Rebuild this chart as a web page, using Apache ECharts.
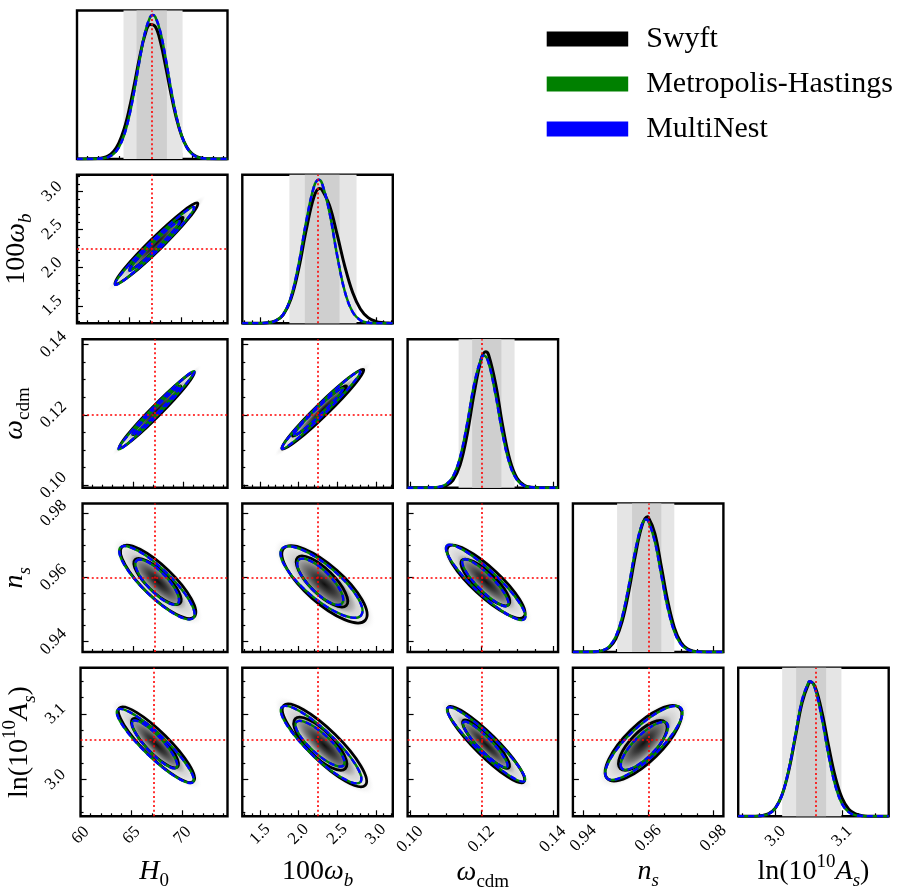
<!DOCTYPE html>
<html><head><meta charset="utf-8">
<script src="https://cdn.jsdelivr.net/npm/echarts@6/dist/echarts.min.js"></script>
<style>html,body{margin:0;padding:0;background:#fff}#c{width:906px;height:895px}</style>
</head><body><div id="c"></div>
<script>
// ================= DATA =================
const paramKeys = ['H0', 'omega_b', 'omega_cdm', 'n_s', 'ln10As'];
const axisMin = [60, 1.27, 0.0993, 0.9368, 2.944];
const axisMax = [74.4, 3.22, 0.1415, 0.9831, 3.170];
const majorTicks = [[60, 65, 70], [1.5, 2.0, 2.5, 3.0], [0.10, 0.12, 0.14], [0.94, 0.96, 0.98], [3.0, 3.1]];
const minorTicks = [
  [61, 62, 63, 64, 66, 67, 68, 69, 71, 72, 73, 74],
  [1.3, 1.4, 1.6, 1.7, 1.8, 1.9, 2.1, 2.2, 2.3, 2.4, 2.6, 2.7, 2.8, 2.9, 3.1, 3.2],
  [0.105, 0.11, 0.115, 0.125, 0.13, 0.135],
  [0.945, 0.95, 0.955, 0.965, 0.97, 0.975],
  [2.95, 2.975, 3.025, 3.05, 3.075, 3.125, 3.15]
];
const tickDecimals = [0, 1, 2, 2, 1];
const truthValues = [67.17, 2.246, 0.1204, 0.960, 3.056];
const band68 = [[65.7, 68.6], [2.08, 2.53], [0.1174, 0.1256], [0.955, 0.964], [3.031, 3.076]];
const band95 = [[64.45, 70.1], [1.88, 2.75], [0.1136, 0.1293], [0.9504, 0.968], [3.010, 3.099]];
const axisTitles = [
  '{it|H}{sub|0}',
  '{rm|100}{it|ω}{subit|b}',
  '{it|ω}{sub|cdm}',
  '{it|n}{subit|s}',
  '{rm|ln(10}{sup|10}{it|A}{subit|s}{rm|)}'
];
const methodNames = ['Swyft', 'Metropolis-Hastings', 'MultiNest'];

// 1D marginals: [parameter value, relative height]
const swyft1D_H0 = [[60,0],[62,0.003],[62.5,0.008],[63,0.022],[63.5,0.051],[64,0.107],[64.5,0.200],[65,0.337],[65.5,0.508],[66,0.688],[66.5,0.835],[67,0.906],[67.5,0.891],[68,0.783],[68.5,0.617],[69,0.436],[69.5,0.277],[70,0.158],[70.5,0.081],[71,0.037],[71.5,0.015],[72,0.006],[72.5,0.002],[73,0.001],[74.4,0]];
const mh1D_H0 = [[60,0],[62,0.001],[62.5,0.005],[63,0.013],[63.5,0.034],[64,0.079],[64.5,0.160],[65,0.29],[65.5,0.468],[66,0.67],[66.5,0.849],[67,0.956],[67.25,0.970],[67.5,0.956],[68,0.849],[68.5,0.67],[69,0.468],[69.5,0.29],[70,0.160],[70.5,0.079],[71,0.034],[71.5,0.013],[72,0.005],[72.5,0.001],[74.4,0]];
const swyft1D_wb = [[1.27,0],[1.5,0.001],[1.6,0.003],[1.7,0.016],[1.8,0.057],[1.9,0.164],[2.0,0.365],[2.1,0.633],[2.2,0.854],[2.27,0.908],[2.3,0.901],[2.4,0.793],[2.5,0.595],[2.6,0.380],[2.7,0.207],[2.8,0.096],[2.9,0.038],[3.0,0.013],[3.1,0.004],[3.2,0.001],[3.22,0]];
const mh1D_wb = [[1.27,0],[1.5,0],[1.6,0.003],[1.7,0.016],[1.8,0.060],[1.9,0.176],[2.0,0.398],[2.1,0.690],[2.2,0.922],[2.26,0.967],[2.3,0.947],[2.4,0.747],[2.5,0.454],[2.6,0.211],[2.7,0.076],[2.8,0.021],[2.9,0.004],[3.0,0.001],[3.22,0]];
const swyft1D_wc = [[0.0993,0],[0.106,0],[0.108,0.002],[0.110,0.012],[0.112,0.049],[0.114,0.152],[0.116,0.359],[0.118,0.642],[0.120,0.870],[0.1212,0.915],[0.122,0.895],[0.124,0.697],[0.126,0.412],[0.128,0.185],[0.130,0.063],[0.132,0.016],[0.134,0.003],[0.136,0],[0.1415,0]];
const mh1D_wc = [[0.0993,0],[0.106,0.001],[0.108,0.004],[0.110,0.021],[0.112,0.074],[0.114,0.203],[0.116,0.431],[0.118,0.700],[0.120,0.876],[0.1207,0.890],[0.122,0.842],[0.124,0.622],[0.126,0.354],[0.128,0.154],[0.130,0.052],[0.132,0.013],[0.134,0.003],[0.136,0],[0.1415,0]];
const swyft1D_ns = [[0.9368,0],[0.942,0],[0.944,0.002],[0.946,0.009],[0.948,0.031],[0.950,0.089],[0.952,0.210],[0.954,0.408],[0.956,0.649],[0.958,0.847],[0.9597,0.910],[0.960,0.908],[0.962,0.799],[0.964,0.576],[0.966,0.341],[0.968,0.166],[0.970,0.066],[0.972,0.022],[0.974,0.006],[0.976,0.001],[0.978,0],[0.9831,0]];
const mh1D_ns = [[0.9368,0],[0.942,0.001],[0.944,0.003],[0.946,0.011],[0.948,0.038],[0.950,0.105],[0.952,0.239],[0.954,0.446],[0.956,0.682],[0.958,0.856],[0.9593,0.893],[0.960,0.882],[0.962,0.746],[0.964,0.518],[0.966,0.295],[0.968,0.138],[0.970,0.053],[0.972,0.017],[0.974,0.004],[0.976,0.001],[0.978,0],[0.9831,0]];
const swyft1D_As = [[2.944,0],[2.97,0.001],[2.98,0.005],[2.99,0.018],[3.00,0.056],[3.01,0.146],[3.02,0.309],[3.03,0.537],[3.04,0.766],[3.05,0.897],[3.053,0.905],[3.06,0.866],[3.07,0.697],[3.08,0.468],[3.09,0.262],[3.10,0.122],[3.11,0.048],[3.12,0.016],[3.13,0.004],[3.14,0.001],[3.17,0]];
const mh1D_As = [[2.944,0],[2.97,0.001],[2.98,0.004],[2.99,0.017],[3.00,0.056],[3.01,0.147],[3.02,0.316],[3.03,0.552],[3.04,0.784],[3.05,0.906],[3.052,0.910],[3.06,0.852],[3.07,0.651],[3.08,0.405],[3.09,0.205],[3.10,0.084],[3.11,0.028],[3.12,0.008],[3.13,0.002],[3.14,0],[3.17,0]];
// MultiNest lies on top of Metropolis-Hastings everywhere in the figure
const nest1D_H0 = mh1D_H0, nest1D_wb = mh1D_wb, nest1D_wc = mh1D_wc, nest1D_ns = mh1D_ns, nest1D_As = mh1D_As;

// 2D credible contours (outer 95%, inner 68%): [centre x, centre y, major-axis tip x, tip y, minor-axis side x, side y]
const swyft2D_H0_wb = [[67.60,2.317,71.55,2.848,68.03,2.257],[67.60,2.317,70.15,2.660,67.86,2.281]];
const mh2D_H0_wb    = [[67.42,2.286,71.20,2.795,67.78,2.236],[67.42,2.286,69.82,2.610,67.64,2.256]];
const swyft2D_H0_wc = [[67.37,0.1213,71.10,0.1321,67.71,0.12018],[67.37,0.1213,69.75,0.1282,67.59,0.12057]];
const mh2D_H0_wc    = [[67.34,0.1213,71.10,0.1324,67.64,0.12045],[67.34,0.1213,69.70,0.1282,67.52,0.12085]];
const swyft2D_H0_ns = [[67.51,0.9587,71.10,0.9478,68.54,0.9622],[67.45,0.9588,69.69,0.9520,68.16,0.9612]];
const mh2D_H0_ns    = [[67.39,0.9584,71.01,0.9474,68.31,0.9616],[67.42,0.9586,69.47,0.9519,68.08,0.9609]];
const swyft2D_H0_As = [[67.44,3.0531,71.07,2.9972,68.28,3.0670],[67.29,3.0554,69.50,3.019,67.92,3.0656]];
const mh2D_H0_As    = [[67.32,3.0511,71.01,2.9961,68.08,3.0635],[67.26,3.0534,69.40,3.018,67.82,3.0626]];
const swyft2D_wb_wc = [[2.313,0.1216,2.841,0.1329,2.369,0.12032],[2.270,0.1211,2.620,0.1282,2.306,0.12025]];
const mh2D_wb_wc    = [[2.291,0.1214,2.799,0.1324,2.336,0.12035],[2.258,0.1209,2.575,0.1276,2.289,0.12020]];
const swyft2D_wb_ns = [[2.335,0.9579,2.863,0.9467,2.494,0.9623],[2.302,0.9588,2.617,0.9513,2.414,0.9615]];
const mh2D_wb_ns    = [[2.296,0.9586,2.808,0.9482,2.436,0.9626],[2.280,0.9587,2.561,0.9519,2.380,0.9611]];
const swyft2D_wb_As = [[2.335,3.0519,2.863,2.9911,2.473,3.0685],[2.280,3.0545,2.604,3.0165,2.378,3.070]];
const mh2D_wb_As    = [[2.291,3.0531,2.799,2.9961,2.410,3.0679],[2.276,3.0545,2.582,3.0215,2.361,3.0656]];
const swyft2D_wc_ns = [[0.1213,0.9587,0.1319,0.9478,0.1240,0.9619],[0.1211,0.9585,0.1277,0.9516,0.1230,0.9608]];
const mh2D_wc_ns    = [[0.1212,0.9585,0.1321,0.9471,0.1235,0.9612],[0.1211,0.9584,0.1274,0.9513,0.1227,0.9602]];
const swyft2D_wc_As = [[0.1213,3.0531,0.1319,2.9961,0.1235,3.0647],[0.1213,3.0539,0.1277,3.018,0.1229,3.0622]];
const mh2D_wc_As    = [[0.1213,3.0534,0.1321,2.9977,0.1232,3.0635],[0.1211,3.0531,0.1272,3.019,0.1224,3.0603]];
const swyft2D_ns_As = [[0.9585,3.0553,0.9696,3.1092,0.9624,3.0353],[0.9583,3.0519,0.9652,3.0873,0.9611,3.038]];
const mh2D_ns_As    = [[0.9586,3.0557,0.9700,3.1092,0.9619,3.0381],[0.9588,3.0512,0.9657,3.0858,0.9611,3.0396]];

// ================= assembly =================
const swyft1D = [swyft1D_H0, swyft1D_wb, swyft1D_wc, swyft1D_ns, swyft1D_As];
const mh1D = [mh1D_H0, mh1D_wb, mh1D_wc, mh1D_ns, mh1D_As];
const nest1D = [nest1D_H0, nest1D_wb, nest1D_wc, nest1D_ns, nest1D_As];
const swyft2D = {'1,0': swyft2D_H0_wb, '2,0': swyft2D_H0_wc, '3,0': swyft2D_H0_ns, '4,0': swyft2D_H0_As,
  '2,1': swyft2D_wb_wc, '3,1': swyft2D_wb_ns, '4,1': swyft2D_wb_As, '3,2': swyft2D_wc_ns, '4,2': swyft2D_wc_As, '4,3': swyft2D_ns_As};
const mh2D = {'1,0': mh2D_H0_wb, '2,0': mh2D_H0_wc, '3,0': mh2D_H0_ns, '4,0': mh2D_H0_As,
  '2,1': mh2D_wb_wc, '3,1': mh2D_wb_ns, '4,1': mh2D_wb_As, '3,2': mh2D_wc_ns, '4,2': mh2D_wc_As, '4,3': mh2D_ns_As};
const nest2D = mh2D;

// ================= layout / style =================
const FONT = '"Liberation Serif", "DejaVu Serif", serif';
const colLeft = [77, 242.3, 407.6, 572.9, 738.2];
const rowTop = [10.5, 174.8, 339.2, 503.5, 667.8];
const PW = 150.5, PH = 148.5;
const xLabelMargin = [19, 18, 23, 22, 20];
const yLabelMargin = [25, 25, 29, 29, 25];
const COLORS = {Swyft: '#000000', 'Metropolis-Hastings': '#008000', MultiNest: '#0000ff'};
const rich = {
  rm: {fontFamily: FONT, fontSize: 28, lineHeight: 38, color: '#000'},
  it: {fontFamily: FONT, fontStyle: 'italic', fontSize: 28, lineHeight: 38, color: '#000'},
  sub: {fontFamily: FONT, fontSize: 19, lineHeight: 18, verticalAlign: 'bottom', color: '#000'},
  subit: {fontFamily: FONT, fontStyle: 'italic', fontSize: 19, lineHeight: 18, verticalAlign: 'bottom', color: '#000'},
  sup: {fontFamily: FONT, fontSize: 19, lineHeight: 18, verticalAlign: 'top', color: '#000'}
};
const tickLine = {color: '#000', width: 1.2};
const truthLine = {color: '#ff0000', width: 1.6, type: [2, 2.6]};
const TICK_FONT = 17;

function mainX(p, showLabel, g) {
  return {gridIndex: g, type: 'value', min: axisMin[p], max: axisMax[p], position: 'bottom',
    axisLine: {show: false}, splitLine: {show: false},
    axisTick: {show: true, inside: true, length: 6, customValues: majorTicks[p], lineStyle: tickLine},
    axisLabel: {show: showLabel, customValues: majorTicks[p], formatter: v => Number(v).toFixed(tickDecimals[p]),
      rotate: 45, align: 'center', verticalAlign: 'middle', margin: xLabelMargin[p],
      fontFamily: FONT, fontSize: TICK_FONT, color: '#000'},
    name: showLabel ? axisTitles[p] : '', nameLocation: 'middle', nameGap: 36,
    nameTextStyle: {rich: rich}};
}
function minorX(p, g) {
  return {gridIndex: g, type: 'value', min: axisMin[p], max: axisMax[p], position: 'bottom',
    axisLine: {show: false}, splitLine: {show: false}, axisLabel: {show: false},
    axisTick: {show: true, inside: true, length: 3, customValues: minorTicks[p], lineStyle: tickLine}};
}
function mainY(p, showLabel, g) {
  return {gridIndex: g, type: 'value', min: axisMin[p], max: axisMax[p], position: 'left',
    axisLine: {show: false}, splitLine: {show: false},
    axisTick: {show: true, inside: true, length: 6, customValues: majorTicks[p], lineStyle: tickLine},
    axisLabel: {show: showLabel, customValues: majorTicks[p], formatter: v => Number(v).toFixed(tickDecimals[p]),
      rotate: 45, align: 'center', verticalAlign: 'middle', margin: yLabelMargin[p],
      fontFamily: FONT, fontSize: TICK_FONT, color: '#000'},
    name: showLabel ? axisTitles[p] : '', nameLocation: 'middle', nameGap: 31,
    nameTextStyle: {rich: rich}};
}
function minorY(p, g) {
  return {gridIndex: g, type: 'value', min: axisMin[p], max: axisMax[p], position: 'left',
    axisLine: {show: false}, splitLine: {show: false}, axisLabel: {show: false},
    axisTick: {show: true, inside: true, length: 3, customValues: minorTicks[p], lineStyle: tickLine}};
}

function ellipseGeom(api) {
  const c = api.coord([api.value(0), api.value(1)]);
  const t = api.coord([api.value(2), api.value(3)]);
  const s = api.coord([api.value(4), api.value(5)]);
  return {c: c, rx: Math.hypot(t[0] - c[0], t[1] - c[1]), ry: Math.hypot(s[0] - c[0], s[1] - c[1]),
    ang: Math.atan2(t[1] - c[1], t[0] - c[0])};
}
function contourRenderer(color, width, dash) {
  return function (params, api) {
    const e = ellipseGeom(api);
    return {type: 'ellipse', x: e.c[0], y: e.c[1], rotation: -e.ang,
      shape: {cx: 0, cy: 0, rx: e.rx, ry: e.ry},
      style: {fill: 'none', stroke: color, lineWidth: width, lineDash: dash || null}};
  };
}
function densityRenderer(params, api) {
  const e = ellipseGeom(api);
  const k = 1.2;
  return {type: 'circle', x: e.c[0], y: e.c[1], rotation: -e.ang, scaleX: e.rx / e.ry, scaleY: 1,
    shape: {cx: 0, cy: 0, r: e.ry * k},
    style: {stroke: null, fill: new echarts.graphic.RadialGradient(0.5, 0.5, 0.5, [
      {offset: 0, color: '#101010'}, {offset: 0.2, color: '#3a3a3a'}, {offset: 0.4, color: '#787878'},
      {offset: 0.55, color: '#b2b2b2'}, {offset: 0.62, color: '#d2d2d2'}, {offset: 0.8, color: '#e9e9e9'},
      {offset: 0.9, color: '#f5f5f5'}, {offset: 1, color: 'rgba(255,255,255,0)'}])}};
}

const grids = [], xAxes = [], yAxes = [], series = [];
let g = 0;
for (let r = 0; r < 5; r++) {
  for (let c = 0; c <= r; c++) {
    grids.push({left: colLeft[c], top: rowTop[r], width: PW, height: PH, show: true,
      borderColor: '#000', borderWidth: 2.4, backgroundColor: 'transparent'});
    const xi = xAxes.length, yi = yAxes.length;
    xAxes.push(mainX(c, r === 4, g));
    xAxes.push(minorX(c, g));
    if (r === c) {
      yAxes.push({gridIndex: g, type: 'value', min: 0, max: 1, show: false});
      series.push({type: 'line', name: 'bands', xAxisIndex: xi, yAxisIndex: yi, data: [], silent: true,
        markArea: {silent: true, data: [
          [{xAxis: band95[c][0], itemStyle: {color: '#e5e5e5'}}, {xAxis: band95[c][1]}],
          [{xAxis: band68[c][0], itemStyle: {color: '#cfcfcf'}}, {xAxis: band68[c][1]}]]}});
      const curves = [[methodNames[0], swyft1D[c], 3, 'solid', 2], [methodNames[1], mh1D[c], 2.5, 'solid', 3],
        [methodNames[2], nest1D[c], 2.5, [6, 4], 4]];
      curves.forEach(cv => series.push({type: 'line', name: cv[0], xAxisIndex: xi, yAxisIndex: yi, data: cv[1],
        smooth: 0.4, showSymbol: false, symbol: 'none', silent: true, z: cv[4],
        itemStyle: {color: COLORS[cv[0]]}, lineStyle: {color: COLORS[cv[0]], width: cv[2], type: cv[3]}}));
      series.push({type: 'line', name: 'truth', xAxisIndex: xi, yAxisIndex: yi, data: [], silent: true,
        markLine: {symbol: ['none', 'none'], silent: true, label: {show: false}, lineStyle: truthLine,
          data: [{xAxis: truthValues[c]}]}});
    } else {
      yAxes.push(mainY(r, c === 0, g));
      yAxes.push(minorY(r, g));
      const key = r + ',' + c;
      series.push({type: 'custom', name: 'density', xAxisIndex: xi, yAxisIndex: yi, data: [swyft2D[key][0]],
        renderItem: densityRenderer, z: 1, silent: true, clip: true});
      const sets = [[methodNames[0], swyft2D[key], 2.8, null, 2], [methodNames[1], mh2D[key], 2.4, null, 3],
        [methodNames[2], nest2D[key], 2.4, [6, 4], 4]];
      sets.forEach(st => series.push({type: 'custom', name: st[0], xAxisIndex: xi, yAxisIndex: yi, data: st[1],
        renderItem: contourRenderer(COLORS[st[0]], st[2], st[3]), z: st[4], silent: true, clip: true,
        itemStyle: {color: COLORS[st[0]]}}));
      series.push({type: 'line', name: 'truth', xAxisIndex: xi, yAxisIndex: yi, data: [], silent: true,
        markLine: {symbol: ['none', 'none'], silent: true, label: {show: false}, lineStyle: truthLine,
          data: [{xAxis: truthValues[c]}, {yAxis: truthValues[r]}]}});
    }
    g++;
  }
}

const chart = echarts.init(document.getElementById('c'), null, {renderer: 'canvas', width: 906, height: 895});
chart.setOption({
  animation: false,
  backgroundColor: '#fff',
  grid: grids, xAxis: xAxes, yAxis: yAxes, series: series,
  legend: {data: methodNames, orient: 'vertical', left: 546.7, top: 24, itemWidth: 81.5, itemHeight: 15,
    itemGap: 15, icon: 'rect', padding: 0, selectedMode: false, itemStyle: {borderWidth: 0},
    textStyle: {fontFamily: FONT, fontSize: 30, lineHeight: 30, color: '#000', padding: [0, 0, 0, 13]}}
});
</script></body></html>
